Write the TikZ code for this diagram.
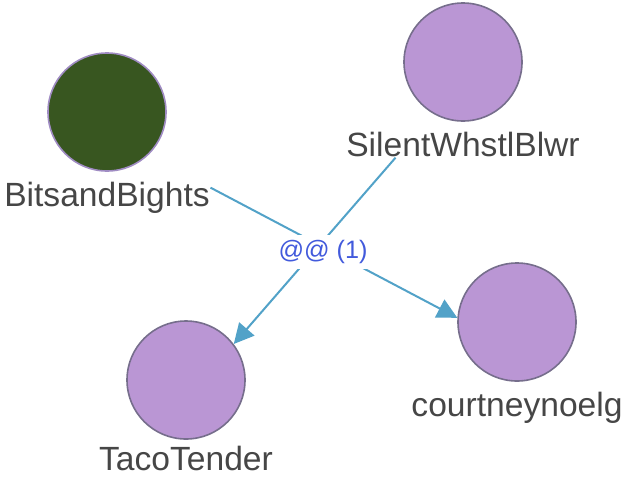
\documentclass[tikz,border=0pt]{standalone}
\usepackage{fontspec}
\setmainfont{Liberation Sans}
\usetikzlibrary{arrows.meta,positioning,fit}
\definecolor{nodepurple}{RGB}{186,150,212}
\definecolor{nodegreen}{RGB}{56,86,32}
\definecolor{rimgray}{RGB}{118,110,140}
\definecolor{rimlight}{RGB}{160,140,195}
\definecolor{edgeblue}{RGB}{82,162,200}
\definecolor{labelblue}{RGB}{66,90,220}
\definecolor{textgray}{RGB}{70,70,70}

\begin{document}
\begin{tikzpicture}[x=0.5pt,y=-0.5pt,
  user/.style={circle,draw=rimgray,line width=0.8pt,fill=nodepurple,minimum size=59pt,inner sep=0},
  uname/.style={inner sep=0,text=textgray,font=\fontsize{16.8}{18}\selectfont},
  group/.style={inner sep=0},
  link/.style={edgeblue,line width=1pt,-{Triangle[length=10pt,width=10pt]}},
  relabel/.style={fill=white,inner sep=2.5pt,text=labelblue,font=\fontsize{12.6}{14}\selectfont}]
\useasboundingbox (0,0) rectangle (621,477);

% users
\node[user,fill=nodegreen,draw=rimlight] (bits) at (107,112) {};
\node[user] (silent) at (463,62) {};
\node[user] (taco) at (186,380) {};
\node[user] (courtney) at (517,322) {};

% screen names
\node[uname,below=5pt of bits] (bitsL) {BitsandBights};
\node[uname,below=5pt of silent] (silentL) {SilentWhstlBlwr};
\node[uname,below=3pt of taco] (tacoL) {TacoTender};
\node[uname,below=5pt of courtney] (courtneyL) {courtneynoelg};

% circle + name together
\node[group,fit=(bits)(bitsL)] (bitsG) {};
\node[group,fit=(silent)(silentL)] (silentG) {};

% mentions
\draw[link] (bitsG) -- (courtney.176);
\draw[link] (silentG) -- (taco.37);
\node[relabel] (rel) at (323,252) {@@ (1)};
\end{tikzpicture}
\end{document}
